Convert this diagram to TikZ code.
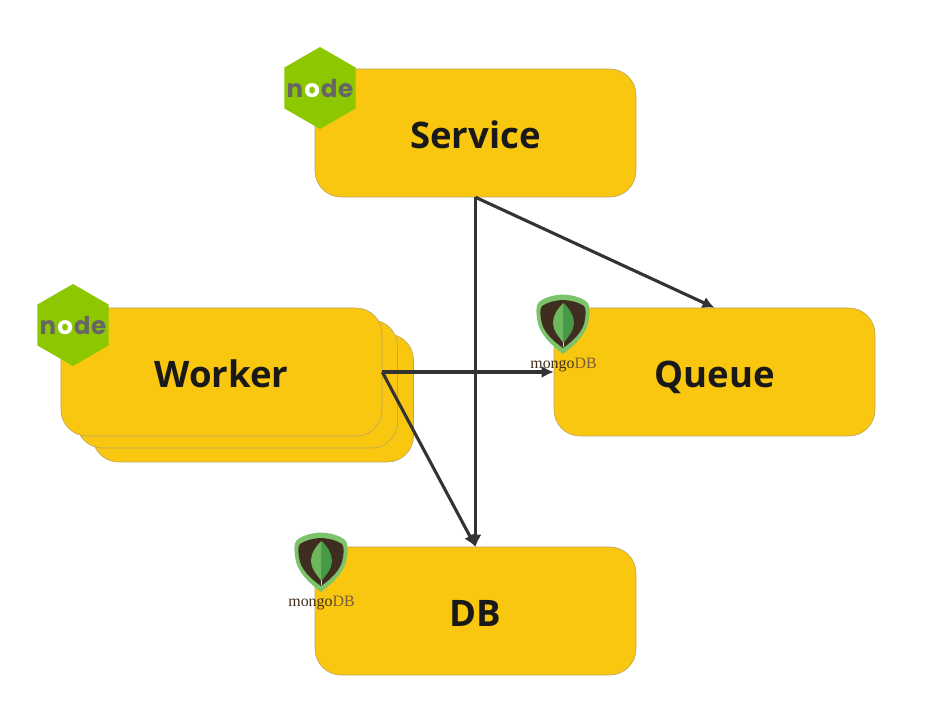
\documentclass[tikz,border=0pt]{standalone}
\usepackage{fontspec}
\setmainfont{Open Sans}
\newfontfamily\logofont{Poppins}
\newfontfamily\mongofont{Liberation Serif}
\usetikzlibrary{shapes.geometric, arrows.meta}

\definecolor{boxfill}{HTML}{F9C610}
\definecolor{boxline}{HTML}{B9A564}
\definecolor{nodegreen}{HTML}{8CC700}
\definecolor{nodegrey}{HTML}{666666}
\definecolor{linedark}{HTML}{333333}
\definecolor{mongodark}{HTML}{3F2D20}
\definecolor{mongobrown}{HTML}{7A5C3E}
\definecolor{shieldgreen}{HTML}{7CC36A}
\definecolor{leafleft}{HTML}{6DB85C}
\definecolor{leafright}{HTML}{469A47}

\newcommand{\nodeword}{\makebox[0pt]{n\kern0.04em\textcolor{white}{o}\kern0.04em d\kern0.02em e}}

\tikzset{
    mongologo/.pic={
        \begin{scope}[x=0.025cm, y=0.025cm]
        \fill [shieldgreen] (0,28.5) .. controls (9,28) and (18,26) .. (24,21) .. controls (27,18) and (27,12) .. (26,5) .. controls (25,-10) and (12,-22) .. (0,-31) .. controls (-12,-22) and (-25,-10) .. (-26,5) .. controls (-27,12) and (-27,18) .. (-24,21) .. controls (-18,26) and (-9,28) .. cycle;
        \fill [mongodark] (0,23) .. controls (8,22.5) and (15,21) .. (21,17) .. controls (23,14) and (23,10) .. (22,4) .. controls (21,-8) and (10,-18) .. (0,-25) .. controls (-10,-18) and (-21,-8) .. (-22,4) .. controls (-23,10) and (-23,14) .. (-21,17) .. controls (-15,21) and (-8,22.5) .. cycle;
        \fill [leafright] (0.5,20) .. controls (7,14) and (11,7) .. (11,0) .. controls (11,-7) and (6,-13) .. (0.5,-20) -- cycle;
        \fill [leafleft] (0.5,20) .. controls (-6,14) and (-10,7) .. (-10,0) .. controls (-10,-7) and (-5,-13) .. (0.5,-20) -- cycle;
        \draw [white!60!leafleft, line width=0.5pt] (0.5,-19) -- (0.5,-24);
        \node (label) [font=\mongofont\fontsize{11.3pt}{12pt}\selectfont, text=mongodark, inner sep=0pt] at (0.5,-42.5) {mongo\textcolor{mongobrown}{DB}};
        \end{scope}
    }
}

\begin{document}
\begin{tikzpicture}[node distance=5.975cm]

% Stili dei blocchi
\tikzstyle{block} = [rectangle, draw=boxline, line width=0.4pt, fill=boxfill,
    minimum width=8.025cm, minimum height=3.2cm, rounded corners=0.65cm,
    text=black!90, text height=0.775cm, text depth=0pt,
    font=\bfseries\fontsize{26pt}{30pt}\selectfont]
\tikzstyle{hexlogo} = [regular polygon, regular polygon sides=6, shape border rotate=30,
    fill=nodegreen, minimum size=2.05cm, inner sep=0pt, text=nodegrey,
    font=\logofont\bfseries\fontsize{17.5pt}{20pt}\selectfont]
\tikzstyle{arrow} = [draw=linedark, line width=2.2pt, -{Latex[length=0.3cm, width=0.3cm]}]

\useasboundingbox (0,0) rectangle (23.6,17.8);

% Nodi
\node (service) [block] at (11.8875,14.475) {Service};
\node (queue) [block, below of=service, xshift=5.975cm] {Queue};
\node (db) [block, below of=service, yshift=-5.975cm] {DB};
\node (worker3) [block, below of=service, xshift=-5.5625cm, yshift=-0.65cm] {};
\node (worker2) [block, below of=service, xshift=-5.9625cm, yshift=-0.3cm] {};
\node (worker) [block, below of=service, xshift=-6.35cm] {Worker};

% Frecce
\draw [arrow] (service.south) -- (queue.north);
\draw [arrow] (service.south) -- (db.north);
\draw [arrow] (worker.east) -- (queue.west);
\draw [arrow] (worker.east) -- (db.north);

% Loghi
\node (servicelogo) [hexlogo] at (8,15.6) {\nodeword};
\node (workerlogo) [hexlogo] at (1.825,9.675) {\nodeword};
\pic (queuelogo) at (14.075,9.725) {mongologo};
\pic (dblogo) at (8.025,3.775) {mongologo};

\end{tikzpicture}
\end{document}
